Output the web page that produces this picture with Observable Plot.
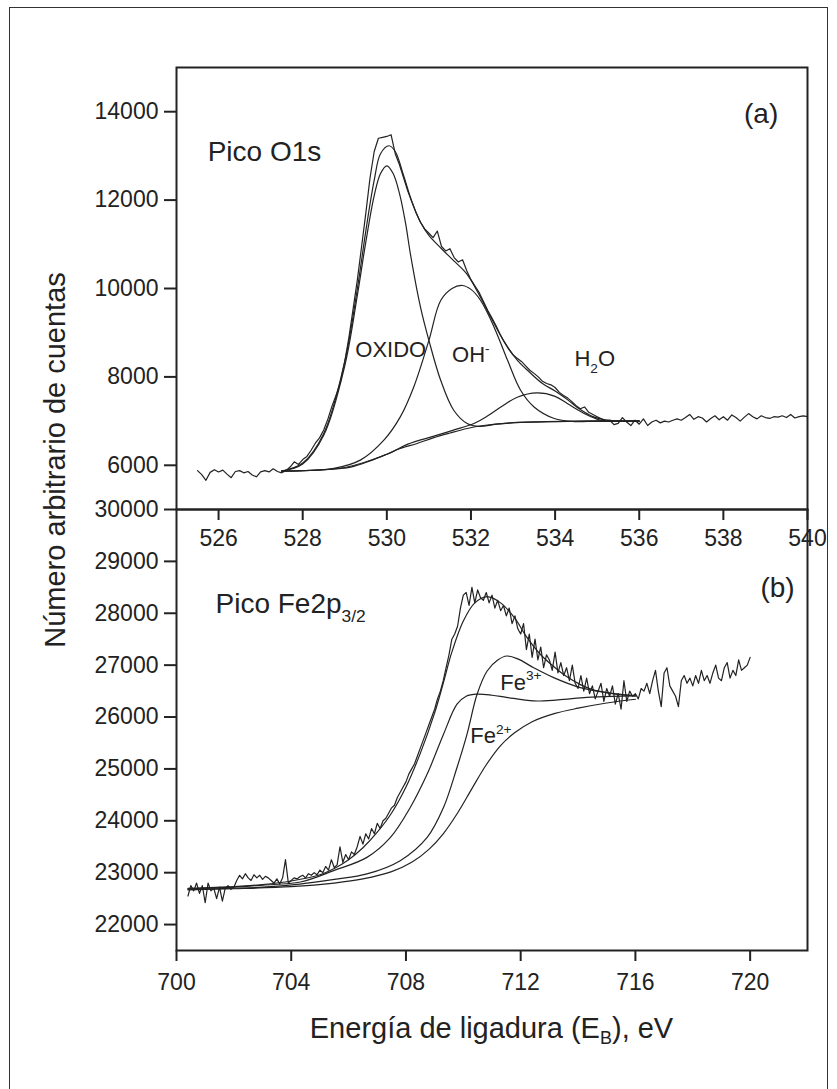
<!DOCTYPE html>
<html><head><meta charset="utf-8">
<script src="https://cdn.jsdelivr.net/npm/d3@7"></script>
<script src="https://cdn.jsdelivr.net/npm/@observablehq/plot@0.6"></script>
<style>
html,body{margin:0;padding:0;background:#fff;}
#wrap{position:relative;width:837px;height:1089px;overflow:hidden;font-family:"Liberation Sans",Arial,Helvetica,sans-serif;color:#222;background:#fff;}
#frame{position:absolute;left:9px;top:7px;width:819px;height:1100px;border:1.5px solid #333;box-sizing:border-box;}
.layer{position:absolute;left:0;top:0;}
#ytitle{position:absolute;left:55px;top:460px;transform:translate(-50%,-50%) rotate(-90deg);white-space:nowrap;font-size:29px;}
#xtitle{position:absolute;left:491.5px;top:1028px;transform:translate(-50%,-50%);white-space:nowrap;font-size:29px;}
#xtitle sub{font-size:0.62em;vertical-align:-0.35em;line-height:0;}
</style></head><body>
<div id="wrap">
  <div id="frame"></div>
  <div id="bottom" class="layer"></div>
  <div id="top" class="layer"></div>
  <div id="ytitle">Número arbitrario de cuentas</div>
  <div id="xtitle">Energía de ligadura (E<sub>B</sub>), eV</div>
</div>
<script>
// ---------- Panel (a): O1s ----------
const oTicksX = [526, 528, 530, 532, 534, 536, 538, 540];
const oTicksY = [6000, 8000, 10000, 12000, 14000];

const oRawE = [525.5,525.6,525.7,525.8,525.9,526.0,526.1,526.2,526.3,526.4,
526.5,526.6,526.7,526.8,526.9,527.0,527.1,527.2,527.3,527.4,
527.5,527.6,527.7,527.8,527.9,528.0,528.1,528.2,528.3,528.4,
528.5,528.6,528.7,528.8,528.9,529.0,529.1,529.2,529.3,529.4,
529.5,529.6,529.7,529.8,529.9,530.0,530.1,530.2,530.3,530.4,
530.5,530.6,530.7,530.8,530.9,531.0,531.1,531.2,531.3,531.4,
531.5,531.6,531.7,531.8,531.9,532.0,532.1,532.2,532.3,532.4,
532.5,532.6,532.7,532.8,532.9,533.0,533.1,533.2,533.3,533.4,
533.5,533.6,533.7,533.8,533.9,534.0,534.1,534.2,534.3,534.4,
534.5,534.6,534.7,534.8,534.9,535.0,535.1,535.2,535.3,535.4,
535.5,535.6,535.7,535.8,535.9,536.0,536.1,536.2,536.3,536.4,
536.5,536.6,536.7,536.8,536.9,537.0,537.1,537.2,537.3,537.4,
537.5,537.6,537.7,537.8,537.9,538.0,538.1,538.2,538.3,538.4,
538.5,538.6,538.7,538.8,538.9,539.0,539.1,539.2,539.3,539.4,
539.5,539.6,539.7,539.8,539.9,540.0];
const oRawI = [5880,5790,5660,5840,5900,5850,5890,5800,5720,5860,
5880,5830,5860,5780,5740,5850,5880,5850,5920,5860,
5830,5880,5960,6080,6020,6130,6200,6340,6500,6620,
6800,7050,7350,7600,7900,8350,8900,9550,10200,10950,
11700,12500,13100,13400,13420,13440,13480,13050,12800,12500,
12200,11950,11700,11500,11350,11250,11150,11300,10950,10850,
10900,10700,10600,10650,10400,10200,10050,9900,9700,9500,
9330,9150,8950,8780,8620,8500,8420,8350,8250,8150,
8080,8000,7900,7850,7820,7760,7650,7580,7520,7440,
7350,7280,7320,7200,7150,7100,7050,7000,7020,6920,
6950,7080,6980,6900,7020,6930,7050,6900,6980,7020,
6960,7000,6980,7020,7050,7020,7080,7150,7040,7100,
7070,6980,7060,7120,7030,7100,7020,7140,7080,7000,
7090,7170,7100,7050,7120,7080,7060,7100,7090,7120,
7080,7150,7070,7100,7120,7100];

const oFitE = [527.5,528.0,528.5,529.0,529.3,529.5,529.7,529.85,530.05,530.2,530.4,530.6,530.8,531.0,531.3,531.6,531.9,532.2,532.5,532.8,533.1,533.4,533.7,534.0,534.3,534.6,534.9,535.2,535.6,536.0];
const oFitI = [5870,6050,6720,8350,10000,11300,12450,13050,13230,13100,12550,11950,11500,11200,10900,10620,10330,9850,9300,8780,8380,8100,7850,7680,7480,7260,7100,7030,7000,6995];

const oOxE = [527.5,528.0,528.5,529.0,529.3,529.5,529.7,529.85,530.0,530.15,530.3,530.45,530.56,530.8,531.0,531.28,531.59,531.91,532.2,532.6,533.2,534.0,535.0,536.0];
const oOxI = [5870,6030,6680,8250,9850,11050,12100,12600,12776,12600,12150,11450,10783,9578,8826,7923,7246,6946,6880,6930,6970,6990,7000,7000];

const oOhE = [527.5,528.0,528.74,529.37,529.93,530.32,530.64,531.0,531.28,531.55,531.79,532.0,532.23,532.55,532.87,533.18,533.5,533.98,534.45,535.0,536.0];
const oOhI = [5870,5880,5930,6117,6569,7095,7772,8826,9729,10000,10068,9980,9729,9126,8375,7698,7320,7059,6990,7000,7000];

const oH2oE = [527.5,529.0,530.0,530.5,531.12,531.6,532.07,532.4,532.71,533.1,533.57,534.0,534.29,534.69,535.08,535.5,536.0];
const oH2oI = [5870,5950,6250,6480,6660,6800,6946,7120,7320,7540,7637,7560,7397,7172,7020,7000,7000];

const oBgE = [527.5,528.0,528.5,529.14,529.6,530.0,530.32,530.72,531.1,531.5,531.91,532.3,532.8,533.49,534.2,535.08,536.0];
const oBgI = [5870,5880,5900,5960,6100,6250,6380,6494,6620,6730,6833,6900,6950,6982,6995,6998,7000];

const oTitle = [{x: 525.74, y: 13077, t: "Pico O1s"}, {x: 538.49, y: 13944, t: "(a)"}];
const oLabels = [{x: 529.25, y: 8600, t: "OXIDO"}, {x: 531.55, y: 8488, t: "OH-"}, {x: 534.46, y: 8413, t: "H2O"}];

// ---------- Panel (b): Fe2p3/2 ----------
const fTicksX = [700, 704, 708, 712, 716, 720];
const fTicksY = [22000, 23000, 24000, 25000, 26000, 27000, 28000, 29000, 30000];

const fRawE = [700.4,700.5,700.6,700.7,700.8,700.9,701.0,701.1,701.2,701.3,
701.4,701.5,701.6,701.7,701.8,701.9,702.0,702.1,702.2,702.3,
702.4,702.5,702.6,702.7,702.8,702.9,703.0,703.1,703.2,703.3,
703.4,703.5,703.6,703.7,703.8,703.9,704.0,704.1,704.2,704.3,
704.4,704.5,704.6,704.7,704.8,704.9,705.0,705.1,705.2,705.3,
705.4,705.5,705.6,705.7,705.8,705.9,706.0,706.1,706.2,706.3,
706.4,706.5,706.6,706.7,706.8,706.9,707.0,707.1,707.2,707.3,
707.4,707.5,707.6,707.7,707.8,707.9,708.0,708.1,708.2,708.3,
708.4,708.5,708.6,708.7,708.8,708.9,709.0,709.1,709.2,709.3,
709.4,709.5,709.6,709.7,709.8,709.9,710.0,710.1,710.2,710.3,
710.4,710.5,710.6,710.7,710.8,710.9,711.0,711.1,711.2,711.3,
711.4,711.5,711.6,711.7,711.8,711.9,712.0,712.1,712.2,712.3,
712.4,712.5,712.6,712.7,712.8,712.9,713.0,713.1,713.2,713.3,
713.4,713.5,713.6,713.7,713.8,713.9,714.0,714.1,714.2,714.3,
714.4,714.5,714.6,714.7,714.8,714.9,715.0,715.1,715.2,715.3,
715.4,715.5,715.6,715.7,715.8,715.9,716.0,716.1,716.2,716.3,
716.4,716.5,716.6,716.7,716.8,716.9,717.0,717.1,717.2,717.3,
717.4,717.5,717.6,717.7,717.8,717.9,718.0,718.1,718.2,718.3,
718.4,718.5,718.6,718.7,718.8,718.9,719.0,719.1,719.2,719.3,
719.4,719.5,719.6,719.7,719.8,719.9,720.0];
const fRawI = [22550,22750,22650,22800,22600,22750,22420,22800,22650,22700,
22500,22720,22450,22700,22750,22680,22720,22850,22950,22880,
22980,22900,22850,22960,22900,22950,22870,22930,22900,22850,
22800,22880,22780,22900,23250,22800,22850,22900,22880,22920,
22950,22900,22980,22950,23000,22960,23050,23000,23120,23050,
23250,23100,23150,23500,23200,23350,23250,23400,23350,23500,
23700,23550,23750,23650,23850,23750,23950,23850,24000,24050,
24150,24250,24300,24450,24550,24650,24750,24900,25000,25100,
25250,25400,25550,25700,25850,26000,26150,26350,26500,26700,
26950,27200,27500,27600,27750,28100,28350,28400,28150,28500,
28200,28450,28300,28250,28400,28200,28350,28100,28250,28050,
28150,27950,28100,27800,27950,27700,27600,27800,27300,27600,
27150,27500,27100,27350,26950,27200,27100,26900,27250,26850,
27050,26800,26950,26700,27000,26650,26550,26800,26500,26750,
26450,26600,26350,26500,26650,26300,26550,26400,26600,26250,
26450,26150,26700,26300,26500,26400,26450,26350,26550,26500,
26650,26450,26700,26900,26500,26200,26850,26950,26600,26500,
26400,26200,26700,26800,26650,26750,26600,26800,26650,26900,
26700,26800,26650,26850,27000,26750,26700,26950,27050,26750,
26900,26800,27100,26900,26950,27000,27150];

const fFitE = [700.4,702.0,703.0,704.0,705.0,705.5,706.0,706.5,707.0,707.5,708.0,708.5,709.0,709.3,709.6,710.0,710.4,710.83,711.3,711.8,712.2,712.7,713.2,713.6,714.1,714.5,715.0,715.5,716.0];
const fFitI = [22700,22730,22770,22840,22960,23080,23250,23480,23780,24150,24650,25300,26080,26650,27250,27850,28200,28320,28200,27900,27550,27200,26950,26780,26620,26530,26470,26430,26410];

const fFe3E = [700.4,702.0,703.0,704.3,705.5,706.64,707.8,708.74,709.31,709.78,710.13,710.48,710.83,711.2,711.52,711.9,712.45,713.15,714.08,715.0,716.0];
const fFe3I = [22680,22700,22720,22780,22870,22976,23232,23680,24257,25027,25670,26440,26888,27100,27176,27120,26951,26759,26566,26470,26406];

const fFe2E = [700.4,702.0,703.0,704.32,705.48,706.64,707.46,708.15,708.74,709.31,709.78,710.1,710.48,711.0,711.5,712.45,713.3,714.3,715.2,716.0];
const fFe2I = [22690,22720,22760,22820,23040,23295,23680,24257,24900,25670,26247,26400,26440,26420,26380,26310,26330,26380,26400,26406];

const fBgE = [700.4,702.0,704.0,705.5,706.5,707.5,708.2,708.8,709.3,709.8,710.3,710.8,711.3,711.8,712.4,713.2,714.0,715.0,716.0];
const fBgI = [22670,22690,22730,22800,22880,23020,23200,23450,23750,24150,24620,25080,25450,25700,25910,26070,26170,26270,26343];

const fTitle = [{x: 701.36, y: 28171, t: "Pico Fe2p3/2"}, {x: 720.36, y: 28491, t: "(b)"}];
const fLabels = [{x: 711.29, y: 26663, t: "Fe3+"}, {x: 710.24, y: 25637, t: "Fe2+"}];

// rich-text pieces: 0 = normal, 1 = superscript, -1 = subscript
const richText = {
  "OH-": [["OH", 0], ["-", 1]],
  "H2O": [["H", 0], ["2", -1], ["O", 0]],
  "Fe3+": [["Fe", 0], ["3+", 1]],
  "Fe2+": [["Fe", 0], ["2+", 1]],
  "Pico Fe2p3/2": [["Pico Fe2p", 0], ["3/2", -1]]
};

// ---------- drawing ----------
const font = '"Liberation Sans", Arial, Helvetica, sans-serif';
const ink = "#222";
const lineStyle = {stroke: ink, strokeWidth: 1.2};

function applyRich(svg) {
  d3.select(svg).selectAll("text").each(function () {
    const parts = richText[this.textContent];
    if (!parts) return;
    const base = parseFloat(getComputedStyle(this).fontSize) || 22;
    const sel = d3.select(this);
    sel.text(null);
    let shift = 0;
    for (const [s, k] of parts) {
      const target = k === 1 ? -0.42 * base : k === -1 ? 0.32 * base : 0;
      const ts = sel.append("tspan").text(s);
      const dy = target - shift;
      if (dy !== 0) ts.attr("dy", dy);
      if (k !== 0) ts.attr("font-size", (0.62 * base) + "px");
      shift = target;
    }
  });
}

function panel(opts) {
  return Plot.plot({
    width: 837, height: opts.height,
    marginLeft: 176, marginRight: 30, marginTop: opts.marginTop, marginBottom: opts.marginBottom,
    style: {background: "transparent", fontFamily: font, fontSize: "23px", color: ink, overflow: "visible"},
    x: {domain: opts.xDomain},
    y: {domain: opts.yDomain},
    marks: [
      Plot.axisY({ticks: opts.yTicks, tickSize: 12, tickPadding: 6, tickFormat: d => String(d), label: null, strokeWidth: 2, fontSize: 23}),
      Plot.axisX({ticks: opts.xTicks, tickSize: 11, tickPadding: opts.xPad, tickFormat: d => String(d), label: null, strokeWidth: 2, fontSize: 23}),
      ...opts.series.map(s => Plot.line(s[0], {x: s[0], y: s[1], curve: s[2], ...lineStyle})),
      Plot.frame({stroke: ink, strokeWidth: 2}),
      Plot.text(opts.titles, {x: "x", y: "y", text: "t", textAnchor: "start", fontSize: 28, fill: ink}),
      Plot.text(opts.labels, {x: "x", y: "y", text: "t", textAnchor: "start", fontSize: 22, fill: ink})
    ]
  });
}

const bottomSvg = panel({
  height: 1089, marginTop: 509, marginBottom: 139, xPad: 12,
  xDomain: [700, 722], yDomain: [21500, 30000], xTicks: fTicksX, yTicks: fTicksY,
  series: [
    [fBgE, fBgI, "catmull-rom"], [fFe2E, fFe2I, "catmull-rom"], [fFe3E, fFe3I, "catmull-rom"],
    [fFitE, fFitI, "catmull-rom"], [fRawE, fRawI, "linear"]
  ],
  titles: fTitle, labels: fLabels
});
const topSvg = panel({
  height: 560, marginTop: 67, marginBottom: 51, xPad: 9,
  xDomain: [525, 540], yDomain: [5000, 15000], xTicks: oTicksX, yTicks: oTicksY,
  series: [
    [oBgE, oBgI, "catmull-rom"], [oOxE, oOxI, "catmull-rom"], [oOhE, oOhI, "catmull-rom"],
    [oH2oE, oH2oI, "catmull-rom"], [oFitE, oFitI, "catmull-rom"], [oRawE, oRawI, "linear"]
  ],
  titles: oTitle, labels: oLabels
});
document.getElementById("bottom").appendChild(bottomSvg);
document.getElementById("top").appendChild(topSvg);
applyRich(bottomSvg);
applyRich(topSvg);
</script>
</body></html>
